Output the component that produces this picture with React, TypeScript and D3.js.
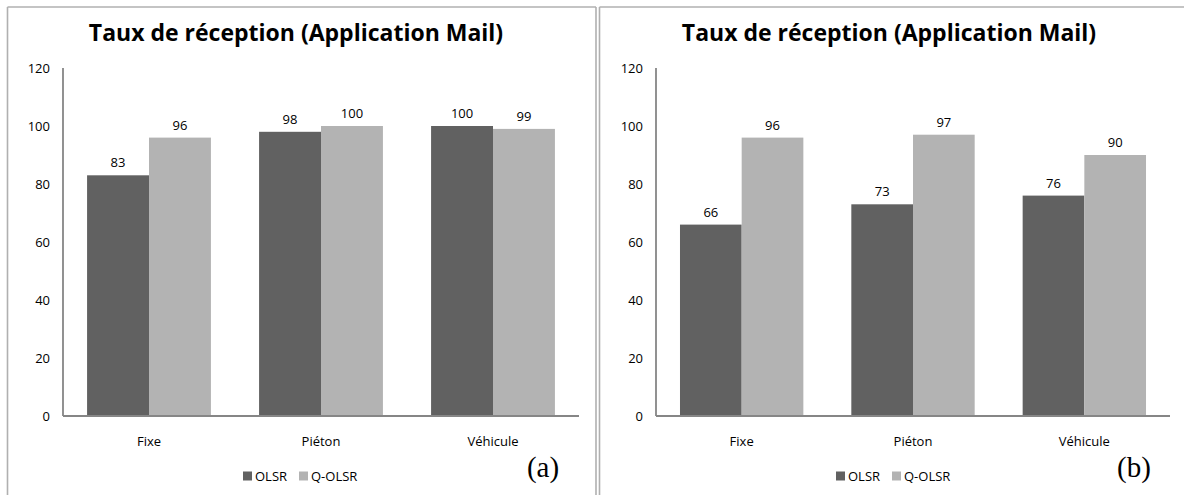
import React from 'react'
import * as d3 from 'd3'

const categories = ['Fixe', 'Piéton', 'Véhicule']
const seriesNames = ['OLSR', 'Q-OLSR']
const olsrA = [83, 98, 100]
const qolsrA = [96, 100, 99]
const olsrB = [66, 73, 76]
const qolsrB = [96, 97, 90]
const yTicks = [0, 20, 40, 60, 80, 100, 120]
const title = 'Taux de réception (Application Mail)'

const colors = ['#616161', '#b3b3b3']
const font = '"Open Sans", sans-serif'

interface PanelProps {
  left: number
  axisLeft: number
  axisRight: number
  tag: string
  series: number[][]
  borderRight?: number
}

function Panel({ left, axisLeft, axisRight, tag, series, borderRight }: PanelProps) {
  const top = 68
  const bottom = 416
  const y = d3.scaleLinear().domain([0, 120]).range([bottom, top])
  const x0 = d3.scaleBand<string>()
    .domain(categories)
    .range([axisLeft, axisRight])
    .paddingInner(0.28)
    .paddingOuter(0.14)
  const x1 = d3.scaleBand<string>()
    .domain(seriesNames)
    .range([0, x0.bandwidth()])

  const border = '#b0b0b0'
  const legendX = axisLeft + 237 - 57

  return (
    <g>
      {/* panel frame */}
      <line x1={left} y1={7} x2={left} y2={495} stroke={border} strokeWidth={1.6} />
      <line x1={left} y1={7} x2={borderRight ?? 1184} y2={7} stroke={border} strokeWidth={1.6} />
      {borderRight && <line x1={borderRight} y1={7} x2={borderRight} y2={495} stroke={border} strokeWidth={1.6} />}

      <text x={axisLeft + 233} y={41} textAnchor="middle" fontFamily={font} fontWeight={700}
        fontSize={23} fill="#000">{title}</text>

      {yTicks.map(t => (
        <text key={t} x={axisLeft - 13} y={y(t)} dy="0.35em" textAnchor="end"
          fontFamily={font} fontSize={13} fill="#000">{t}</text>
      ))}

      {series.map((vals, si) => vals.map((v, ci) => {
        const bx = (x0(categories[ci]) ?? 0) + (x1(seriesNames[si]) ?? 0)
        return (
          <g key={`${si}-${ci}`}>
            <rect x={bx} y={y(v)} width={x1.bandwidth()} height={bottom - y(v)} fill={colors[si]} />
            <text x={bx + x1.bandwidth() / 2} y={y(v) - 8} textAnchor="middle"
              fontFamily={font} fontSize={13} fill="#000">{v}</text>
          </g>
        )
      }))}

      <line x1={axisLeft} y1={top} x2={axisLeft} y2={bottom} stroke="#868686" strokeWidth={1.8} />
      <line x1={axisLeft} y1={bottom} x2={axisRight} y2={bottom} stroke="#868686" strokeWidth={1.8} />

      {categories.map(c => (
        <text key={c} x={(x0(c) ?? 0) + x0.bandwidth() / 2} y={441} dy="0.35em" textAnchor="middle"
          fontFamily={font} fontSize={13} fill="#000">{c}</text>
      ))}

      {/* legend */}
      <g transform={`translate(${legendX},476)`}>
        <rect x={0} y={-4.5} width={9} height={9} fill={colors[0]} />
        <text x={12} y={0} dy="0.35em" fontFamily={font} fontSize={13} fill="#000">{seriesNames[0]}</text>
        <rect x={56} y={-4.5} width={9} height={9} fill={colors[1]} />
        <text x={68} y={0} dy="0.35em" fontFamily={font} fontSize={13} fill="#000">{seriesNames[1]}</text>
      </g>

      <text x={axisRight - 36} y={477} textAnchor="middle" fontFamily='"Liberation Serif", serif'
        fontSize={29} fill="#000">{tag}</text>
    </g>
  )
}

export default function App() {
  return (
    <svg width={1184} height={495} style={{ position: 'absolute', left: 0, top: 0, background: '#fff' }}>
      <rect width={1184} height={495} fill="#fff" />
      <Panel left={7.5} axisLeft={63} axisRight={579} tag="(a)" series={[olsrA, qolsrA]} borderRight={596} />
      <Panel left={599.5} axisLeft={656} axisRight={1170} tag="(b)" series={[olsrB, qolsrB]} />
    </svg>
  )
}
